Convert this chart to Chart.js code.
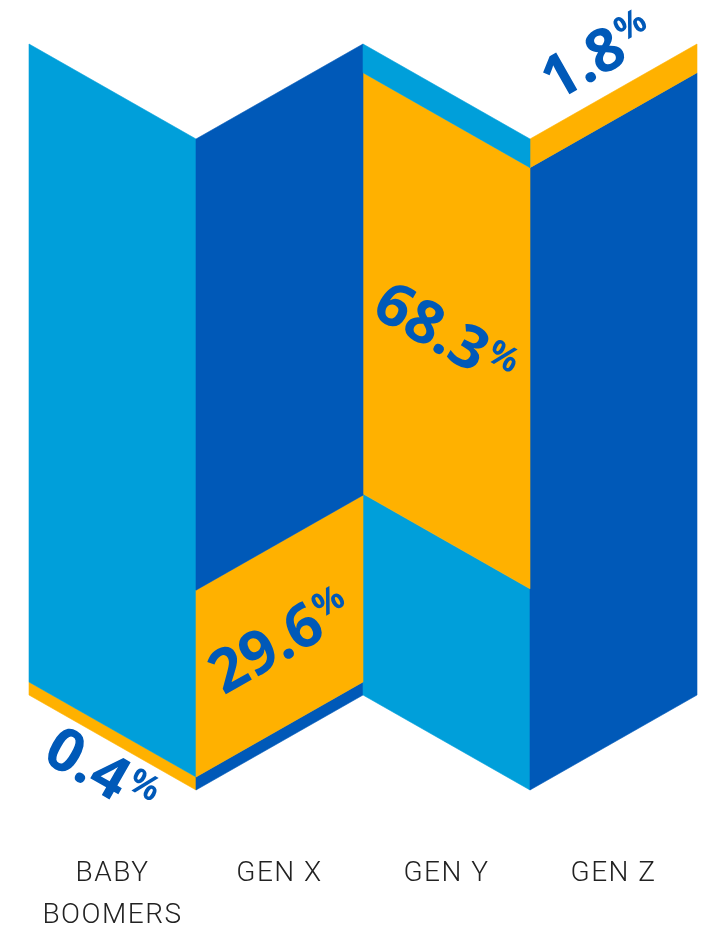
<!DOCTYPE html>
<html lang="en">
<head>
<meta charset="UTF-8">
<title>Generations</title>
<script src="https://cdn.jsdelivr.net/npm/chart.js"></script>
<style>
  html, body { margin: 0; padding: 0; background: #fff; }
</style>
</head>
<body>
<canvas id="genChart" width="710" height="928"></canvas>
<script>
// categories and the share printed on each column
const generations = [['BABY', 'BOOMERS'], 'GEN X', 'GEN Y', 'GEN Z'];
const shareLabels = ['0.4', '29.6', '68.3', '1.8'];

// coloured bands of each folded column, bottom to top (% of column height)
const bandBottom = [2.0, 2.0, 30.9, 95.6];
const bandMiddle = [98.0, 28.7, 64.7, 4.4];
const bandTop = [0, 69.3, 4.4, 0];

const LIGHT = '#009fda';
const DARK = '#0059b8';
const ORANGE = '#ffb100';

const bottomColors = [ORANGE, DARK, LIGHT, DARK];
const middleColors = [LIGHT, ORANGE, ORANGE, ORANGE];
const topColors = [LIGHT, DARK, LIGHT, DARK];

const FOLD = 95 / 167; // vertical drop of a column edge per px of width

function drawShare(ctx, text, cx, cy, angle) {
    const num = 60, pct = 34;
    ctx.save();
    ctx.translate(cx, cy);
    ctx.rotate(angle);
    ctx.fillStyle = DARK;
    ctx.textAlign = 'left';
    ctx.textBaseline = 'alphabetic';
    ctx.font = `bold ${num}px "Noto Sans"`;
    const wNum = ctx.measureText(text).width;
    ctx.font = `bold ${pct}px "Noto Sans"`;
    const wPct = ctx.measureText('%').width;
    const x0 = -(wNum + 2 + wPct) / 2;
    const capH = num * 0.714;
    ctx.font = `bold ${num}px "Noto Sans"`;
    ctx.fillText(text, x0, capH / 2);
    ctx.font = `bold ${pct}px "Noto Sans"`;
    ctx.fillText('%', x0 + wNum + 2, -capH / 2 + pct * 0.714);
    ctx.restore();
}

// draws each stacked bar as a sheared panel, like a folded map
const foldPlugin = {
    id: 'fold',
    beforeDraw(chart) {
        chart.ctx.letterSpacing = '1.5px'; // for the category labels
    },
    beforeDatasetsDraw(chart) {
        const ctx = chart.ctx;
        ctx.letterSpacing = '0px';
        const orange = [];
        chart.data.datasets.forEach((ds, di) => {
            const meta = chart.getDatasetMeta(di);
            meta.data.forEach((bar, i) => {
                const p = bar.getProps(['x', 'y', 'base', 'width'], true);
                if (Math.abs(p.base - p.y) < 0.1) return;
                const l = p.x - p.width / 2, r = p.x + p.width / 2;
                const drop = p.width * FOLD;
                const dl = i % 2 ? drop : 0, dr = i % 2 ? 0 : drop;
                ctx.beginPath();
                ctx.moveTo(l, p.y + dl);
                ctx.lineTo(r, p.y + dr);
                ctx.lineTo(r, p.base + dr);
                ctx.lineTo(l, p.base + dl);
                ctx.closePath();
                ctx.fillStyle = ds.backgroundColor[i];
                ctx.strokeStyle = ds.backgroundColor[i];
                ctx.lineWidth = 0.6;
                ctx.fill();
                ctx.stroke();
                if (ds.backgroundColor[i] === ORANGE) orange[i] = p;
            });
        });

        // share labels
        const area = chart.chartArea;
        orange.forEach((p, i) => {
            const drop = p.width * FOLD;
            const l = p.x - p.width / 2;
            const angle = (i % 2 ? -1 : 1) * Math.atan(FOLD);
            const edgeAt = (y, x) => y + (i % 2 ? (l + p.width - x) : (x - l)) * FOLD;
            let cx = p.x, cy;
            if (i === 0) {
                cx = p.x - 10;
                cy = edgeAt(area.bottom, cx) + 34;
            } else if (i === generations.length - 1) {
                cx = p.x - 17;
                cy = edgeAt(area.top, cx) - 47;
            } else {
                cy = (p.y + p.base) / 2 + drop / 2 + 3;
            }
            drawShare(ctx, shareLabels[i], cx, cy, angle);
        });
        return false;
    }
};

new Chart(document.getElementById('genChart'), {
    type: 'bar',
    data: {
        labels: generations,
        datasets: [
            { data: bandBottom, backgroundColor: bottomColors },
            { data: bandMiddle, backgroundColor: middleColors },
            { data: bandTop, backgroundColor: topColors }
        ]
    },
    options: {
        responsive: false,
        animation: false,
        devicePixelRatio: 1,
        layout: { padding: { left: 29, right: 13, top: 44, bottom: 0 } },
        datasets: { bar: { categoryPercentage: 1, barPercentage: 1 } },
        plugins: { legend: { display: false }, tooltip: { enabled: false } },
        scales: {
            x: {
                stacked: true,
                grid: { display: false, drawTicks: true, tickLength: 150 },
                border: { display: false },
                ticks: {
                    padding: 8,
                    color: '#222',
                    font: { family: 'Roboto', weight: '300', size: 28, lineHeight: 1.5 },
                    maxRotation: 0,
                    autoSkip: false
                },
                afterFit(scale) { scale.height = 233; }
            },
            y: { stacked: true, display: false, min: 0, max: 100 }
        }
    },
    plugins: [foldPlugin]
});
</script>
</body>
</html>
